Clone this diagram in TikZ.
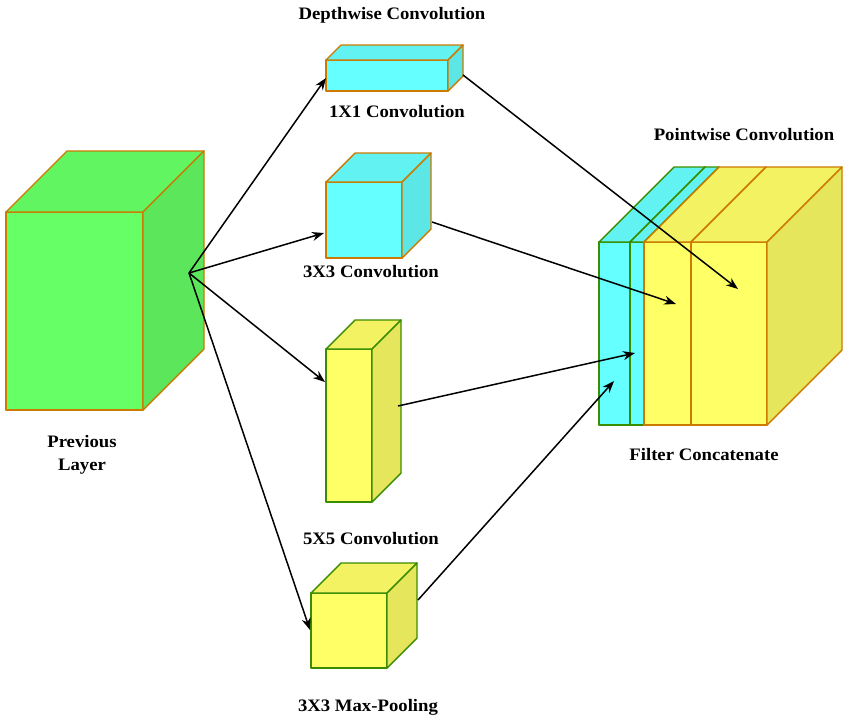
\documentclass[tikz,border=0pt]{standalone}
\usepackage{fontspec}
\setmainfont{Liberation Serif}[FakeStretch=1.07]
\usetikzlibrary{arrows.meta}
\definecolor{gfront}{HTML}{66FF66}
\definecolor{gside}{HTML}{5BE65B}
\definecolor{gtop}{HTML}{62F562}
\definecolor{cfront}{HTML}{66FFFF}
\definecolor{cside}{HTML}{5CE6E6}
\definecolor{ctop}{HTML}{62F2F2}
\definecolor{yfront}{HTML}{FFFF66}
\definecolor{yside}{HTML}{E6E65C}
\definecolor{ytop}{HTML}{F2F262}
\definecolor{oedge}{HTML}{CC7A00}
\definecolor{gedge}{HTML}{3A8C00}
\newcommand\mycuboid[9]{%
  \filldraw[fill=#6,draw=#9] (#1,#2) rectangle ++(#3,#4);
  \filldraw[fill=#8,draw=#9] (#1,#2) -- ++(#5,-#5) -- ++(#3,0) -- ++(-#5,#5) -- cycle;
  \filldraw[fill=#7,draw=#9] (#1+#3,#2) -- ++(#5,-#5) -- ++(0,#4) -- ++(-#5,#5) -- cycle;
}
\tikzset{
  lbl/.style={font=\fontsize{17.5}{23}\selectfont\bfseries, align=center},
  conn/.style={-{Stealth[length=12pt,width=9pt]}, line width=1.5pt, black},
  every path/.append style={line join=round}
}
\begin{document}
\begin{tikzpicture}[x=1pt,y=-1pt,line width=1.4pt]
\useasboundingbox (0,0) rectangle (850,723);
% previous layer
\mycuboid{6}{212}{137}{198}{61}{gfront}{gside}{gtop}{oedge}
% 1x1
\mycuboid{326}{60}{122}{31}{15}{cfront}{cside}{ctop}{oedge}
% 3x3
\mycuboid{326}{182}{76}{76}{29}{cfront}{cside}{ctop}{oedge}
% 5x5
\mycuboid{326}{349}{46}{153}{29}{yfront}{yside}{ytop}{gedge}
% max pool
\mycuboid{311}{593}{76}{75}{30}{yfront}{yside}{ytop}{gedge}
% concatenate
\mycuboid{599}{242}{31}{183}{75}{cfront}{cside}{ctop}{gedge}
\mycuboid{630}{242}{14}{183}{75}{cfront}{cside}{ctop}{gedge}
\mycuboid{644}{242}{47}{183}{75}{yfront}{yside}{ytop}{oedge}
\mycuboid{691}{242}{76}{183}{75}{yfront}{yside}{ytop}{oedge}

% connector points
\coordinate (prev) at (189,273);
\coordinate (c1in) at (326,78);
\coordinate (c3in) at (324,233);
\coordinate (c5in) at (325,382);
\coordinate (mpin) at (310,630);
\coordinate (c1out) at (463,75);
\coordinate (c3out) at (432,222);
\coordinate (c5out) at (398,406);
\coordinate (mpout) at (418,600);
\coordinate (t1) at (738,289);
\coordinate (t3) at (676,304);
\coordinate (t5) at (635,353);
\coordinate (tm) at (614,381);

\draw[conn] (prev) -- (c1in);
\draw[conn] (prev) -- (c3in);
\draw[conn] (prev) -- (c5in);
\draw[conn] (prev) -- (mpin);
\draw[conn] (c1out) -- (t1);
\draw[conn] (c3out) -- (t3);
\draw[conn] (c5out) -- (t5);
\draw[conn] (mpout) -- (tm);

% labels
\node[lbl] (ldw) at (392,15) {Depthwise Convolution};
\node[lbl] (l11) at (397,112) {1X1 Convolution};
\node[lbl] (l33) at (371,272) {3X3 Convolution};
\node[lbl] (l55) at (371,539) {5X5 Convolution};
\node[lbl] (lmp) at (368,707) {3X3 Max-Pooling};
\node[lbl] (lpw) at (744,135) {Pointwise Convolution};
\node[lbl] (lfc) at (704,455) {Filter Concatenate};
\node[lbl] (lprev) at (82,455) {Previous\\Layer};
\end{tikzpicture}
\end{document}
